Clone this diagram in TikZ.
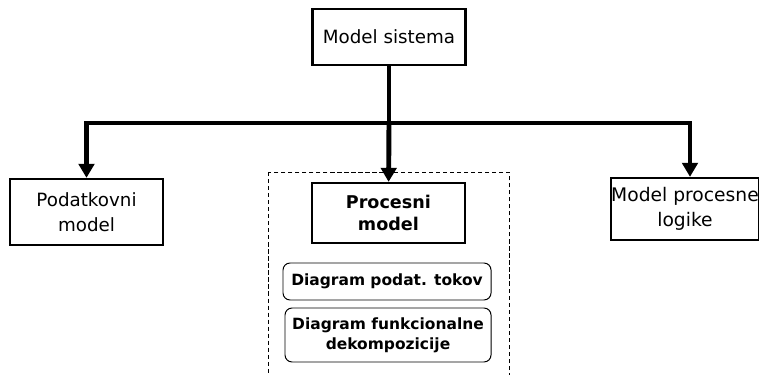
\documentclass[tikz,border=0pt]{standalone}
\usepackage{fontspec}
\setmainfont{DejaVu Sans}
\usetikzlibrary{arrows.meta}

\tikzset{
    box/.style={draw, line width=1.6pt, minimum width=3.825cm, align=center, inner sep=0pt, font=\fontsize{13}{17.5}\selectfont},
    rbox/.style={draw, rounded corners=5pt, line width=0.7pt, align=center, inner sep=0pt, font=\fontsize{11}{14}\selectfont\bfseries},
    conn/.style={line width=3.5pt},
    arr/.style={conn, -{Triangle[length=10pt,width=11pt]}}
}

\begin{document}
\begin{tikzpicture}[scale=1]
    \useasboundingbox (0,0) rectangle (18.975,9.35);

    % Top box
    \node [box, minimum height=1.4cm] (sys) at (9.725,8.425) {Model sistema};

    % Second level
    \node [box, minimum height=1.65cm] (pod) at (2.1625,4.05) {Podatkovni\\model};
    \node [box, minimum height=1.5cm, font=\fontsize{12.5}{15.5}\selectfont\bfseries] (proc) at (9.71,4.025) {Procesni\\model};
    \node [box, minimum width=3.7cm, minimum height=1.55cm] (log) at (17.125,4.125) {};
    \node [align=center, inner sep=0pt, font=\fontsize{13.3}{17.7}\selectfont] (logtxt) at (log) {Model procesne\\logike};

    % Group round the process model
    \draw [dash pattern=on 3pt off 2pt, line width=0.7pt] (6.7,5.05) rectangle (12.725,-0.3);

    % Diagrams of the process model
    \node [rbox, minimum width=5.2cm, minimum height=0.925cm] (dtok) at (9.675,2.3125) {Diagram podat. tokov};
    \node [rbox, minimum width=5.15cm, minimum height=1.35cm] (dfun) at (9.7,0.975) {Diagram funkcionalne\\dekompozicije};

    % Connectors
    \coordinate (split) at (9.725,6.275);
    \draw [conn] (sys) -- (split);
    \draw [arr] (split) -| (pod);
    \draw [arr] (split) -- (proc);
    \draw [arr] (split) -| ([xshift=0.125cm]log.north);
\end{tikzpicture}
\end{document}
